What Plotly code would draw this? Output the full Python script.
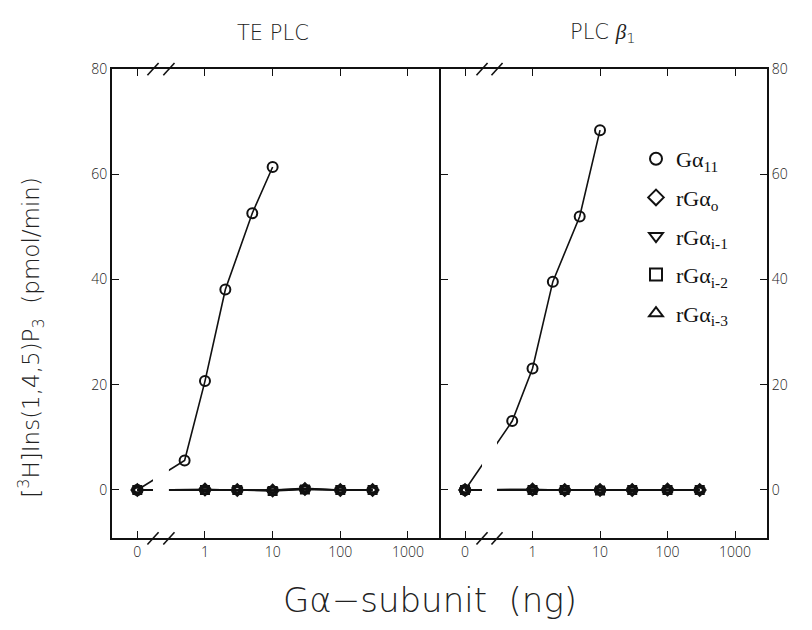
import plotly.graph_objects as go

# ---------------- data ----------------
panel_titles = ["TE PLC", "PLC <span style=\"font-family:Liberation Serif\"><i>β</i></span><sub>1</sub>"]
x_tickvals_ng = [0, 1, 10, 100, 1000]
x_ticktext = ["0", "1", "10", "100", "1000"]
y_tickvals = [0, 20, 40, 60, 80]

# G alpha 11 dose (ng) and activity
g11_ng = [0, 0.5, 1, 2, 5, 10]
te_g11 = [0, 5.6, 20.7, 38.1, 52.6, 61.4]
b1_g11 = [0, 13.1, 23.1, 39.6, 52.0, 68.4]

# recombinant G alpha subunits (ng)
r_ng = [0, 1, 3, 10, 30, 100, 300]
te_ro = [0.0, 0.1, 0.0, -0.1, 0.2, 0.0, 0.0]
te_ri1 = [0.0, 0.0, 0.1, 0.0, 0.3, 0.0, 0.0]
te_ri2 = [0.0, 0.0, 0.0, -0.2, 0.1, 0.0, 0.0]
te_ri3 = [0.0, 0.1, 0.0, 0.0, 0.2, 0.0, 0.0]
b1_ro = [0.0, 0.1, 0.0, 0.0, 0.0, 0.1, 0.0]
b1_ri1 = [0.0, 0.0, -0.1, 0.0, 0.0, 0.0, 0.0]
b1_ri2 = [0.0, 0.0, 0.0, -0.1, 0.0, 0.0, 0.0]
b1_ri3 = [0.0, 0.1, 0.0, 0.0, 0.1, 0.0, 0.0]

legend_names = ["Gα<sub>11</sub>", "rGα<sub>o</sub>", "rGα<sub>i-1</sub>",
                "rGα<sub>i-2</sub>", "rGα<sub>i-3</sub>"]
symbols = ["circle-open", "diamond-open", "triangle-down-open",
           "square-open", "triangle-up-open"]
sizes = [10, 9, 9, 8, 9]

ZERO_POS = 0.1  # where "0 ng" sits on the broken log axis


def pos(xs):
    return [ZERO_POS if v == 0 else v for v in xs]


panel_data = [
    [(g11_ng, te_g11), (r_ng, te_ro), (r_ng, te_ri1), (r_ng, te_ri2), (r_ng, te_ri3)],
    [(g11_ng, b1_g11), (r_ng, b1_ro), (r_ng, b1_ri1), (r_ng, b1_ri2), (r_ng, b1_ri3)],
]

fig = go.Figure()
INK = "#111111"

for p, series in enumerate(panel_data):
    xa = "x" if p == 0 else "x2"
    ya = "y" if p == 0 else "y2"
    for s, (xs, ys) in reversed(list(enumerate(series))):
        fig.add_trace(go.Scatter(
            x=pos(xs), y=ys, mode="lines", xaxis=xa, yaxis=ya,
            line=dict(color=INK, width=1.6), showlegend=False, hoverinfo="skip"))
    for s, (xs, ys) in reversed(list(enumerate(series))):
        fig.add_trace(go.Scatter(
            x=pos(xs), y=ys, mode="markers", xaxis=xa, yaxis=ya,
            name=legend_names[s], legendgroup=f"g{s}", legendrank=s + 1,
            showlegend=(p == 1),
            marker=dict(symbol=symbols[s], size=sizes[s], color=INK,
                        line=dict(color=INK, width=2))))

tick_font = dict(family="Open Sans", size=14, color="#222", weight=300)
xcommon = dict(type="log", tickvals=pos(x_tickvals_ng), ticktext=x_ticktext,
               ticks="inside", ticklen=7, tickwidth=1.2, tickcolor=INK,
               showline=True, linecolor=INK, linewidth=2, mirror="ticks",
               showgrid=False, zeroline=False, tickfont=tick_font)
ycommon = dict(range=[-9.2, 80], tickvals=y_tickvals, ticks="inside", ticklen=7,
               tickwidth=1.2, tickcolor=INK, showline=True, linecolor=INK,
               linewidth=2, showgrid=False, zeroline=False, tickfont=tick_font)

# page body adds an 8px margin, so the figure is laid out 8px up/left
OFF = 8
W, H = 796, 614
L0, L1, R1 = 112 - OFF, 441 - OFF, 767 - OFF
TOP, BOT = 60 - OFF, 537 - OFF


def px(x):
    return (x - OFF) / W


def py(y):
    return 1 - (y - OFF) / H


fig.update_layout(
    width=W, height=H, margin=dict(l=0, r=0, t=0, b=0),
    paper_bgcolor="white", plot_bgcolor="white",
    xaxis=dict(xcommon, domain=[L0 / W, L1 / W], range=[-1.374, 3.488], anchor="y"),
    xaxis2=dict(xcommon, domain=[L1 / W, R1 / W], range=[-1.356, 3.474], anchor="y2"),
    yaxis=dict(ycommon, domain=[1 - BOT / H, 1 - TOP / H], anchor="x", side="left",
               mirror=False),
    yaxis2=dict(ycommon, domain=[1 - BOT / H, 1 - TOP / H], anchor="x2",
                side="right", mirror="ticks"),
    legend=dict(x=px(636), y=py(130), xanchor="left", yanchor="top",
                font=dict(family="Liberation Serif", size=22, color=INK),
                bgcolor="rgba(0,0,0,0)", tracegroupgap=7, itemsizing="constant"),
    showlegend=True,
)

# break gaps (white bands hiding lines) and // marks
gaps = [("x", 0.1246, 0.173), ("x2", 0.1258, 0.1718)]
shapes = []
for xa, g0, g1 in gaps:
    ya = "y" if xa == "x" else "y2"
    shapes.append(dict(type="rect", xref=f"{xa} domain", yref=f"{ya} domain",
                       x0=g0, x1=g1, y0=0.02, y1=0.98, fillcolor="white",
                       line=dict(width=0), layer="above"))
    for gx in (g0, g1):
        for yv in (0.0, 1.0):
            shapes.append(dict(type="line", xref=f"{xa} domain", yref=f"{ya} domain",
                               x0=gx - 0.017, x1=gx + 0.017, y0=yv - 0.013, y1=yv + 0.013,
                               line=dict(color=INK, width=1.6), layer="above"))
fig.update_layout(shapes=shapes)

title_font = dict(family="DejaVu Sans", size=21, color="#222", weight=200)
ann = [
    dict(text=panel_titles[0], x=px(273), y=py(23)),
    dict(text=panel_titles[1], x=px(603), y=py(23)),
]
ann = [dict(a, xref="paper", yref="paper", showarrow=False, xanchor="center",
            yanchor="middle", font=title_font) for a in ann]
ann += [
    dict(text="[<sup>3</sup>H]Ins(1,4,5)P<sub>3</sub>  (pmol/min)", x=px(31),
         y=py(333), xref="paper", yref="paper", showarrow=False, textangle=-90,
         xanchor="center", yanchor="middle",
         font=dict(family="DejaVu Sans", size=23, color="#222", weight=200)),
    dict(text="Gα−subunit  (ng)", x=px(430), y=py(600), xref="paper",
         yref="paper", showarrow=False, xanchor="center", yanchor="middle",
         font=dict(family="DejaVu Sans", size=34, color="#222", weight=200)),
]
fig.update_layout(annotations=ann)

fig.write_html("out.html")
